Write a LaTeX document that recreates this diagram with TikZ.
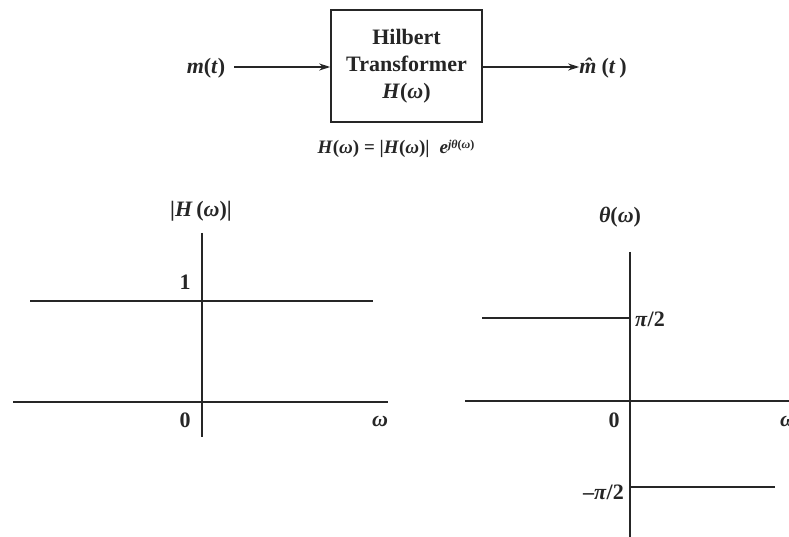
\documentclass[tikz,border=0pt]{standalone}
\usepackage{fontspec}
\setmainfont{Liberation Serif}
\usetikzlibrary{arrows.meta}
\definecolor{ink}{gray}{0.15}
\tikzset{
  lbl/.style={inner sep=0pt, text=ink, font=\fontsize{22}{24}\selectfont\bfseries},
  blk/.style={draw=ink, line width=1.6pt, minimum width=151pt, minimum height=112pt, inner sep=0pt, text=ink, align=center, font=\fontsize{22}{27}\selectfont\bfseries},
  sig/.style={draw=ink, line width=1.5pt, -{Stealth[length=11pt,width=7pt]}},
  axis/.style={draw=ink, line width=1.7pt},
  curve/.style={draw=ink, line width=2.2pt}
}
\begin{document}
\begin{tikzpicture}[x=1pt,y=-1pt]
\useasboundingbox[fill=white] (0,0) rectangle (789,537);
% block diagram
\node[blk] (box) at (406.5,66) {Hilbert\\Transformer\\\textit{H}(\textit{ω})};
\node[lbl] (min) at (206,68) {\textit{m}(\textit{t})};
\node[lbl] (mout) at (603,68) {\textit{\^{m}}(\textit{t}\,)};
\coordinate (a0) at (234,67);
\draw[sig] (a0) -- (box.west |- a0);
\draw[sig] (box.east |- a0) -- (mout.west |- a0);
\node[lbl, font=\fontsize{19}{21}\selectfont\bfseries] (eq) at (396,149)
  {\textit{H}(\textit{ω}) = |\textit{H}(\textit{ω})|\; \textit{e}\raisebox{0.6ex}{\fontsize{12}{13}\selectfont\textit{jθ}(\textit{ω})}};
% left plot
\draw[axis] (13,402) coordinate (lxa) -- (388,402) coordinate (lxb);
\draw[axis] (202,233) coordinate (lya) -- (202,437) coordinate (lyb);
\draw[curve] (30,301) coordinate (m1) -- (373,301) coordinate (m2);
\node[lbl] (one) at (185,282) {1};
\node[lbl] (lz) at (185,420) {0};
\node[lbl] (lw) at (380,421) {\textit{ω}};
\node[lbl] (lt) at (201,211) {|\textit{H}\,(\textit{ω})|};
% right plot
\draw[axis] (465,401) coordinate (rxa) -- (800,401) coordinate (rxb);
\draw[axis] (630,252) coordinate (rya) -- (630,540) coordinate (ryb);
\draw[curve] (482,318) coordinate (p1) -- (630,318) coordinate (p2);
\draw[curve] (630,487) coordinate (q1) -- (775,487) coordinate (q2);
\node[lbl, anchor=west] (pi) at (635,319) {\textit{π}/2};
\node[lbl, anchor=east] (mpi) at (624,492) {–\textit{π}/2};
\node[lbl] (rz) at (614,420) {0};
\node[lbl, anchor=west] (rw) at (780,421) {\textit{ω}};
\node[lbl] (rt) at (620,217) {\textit{θ}(\textit{ω})};
\end{tikzpicture}
\end{document}
